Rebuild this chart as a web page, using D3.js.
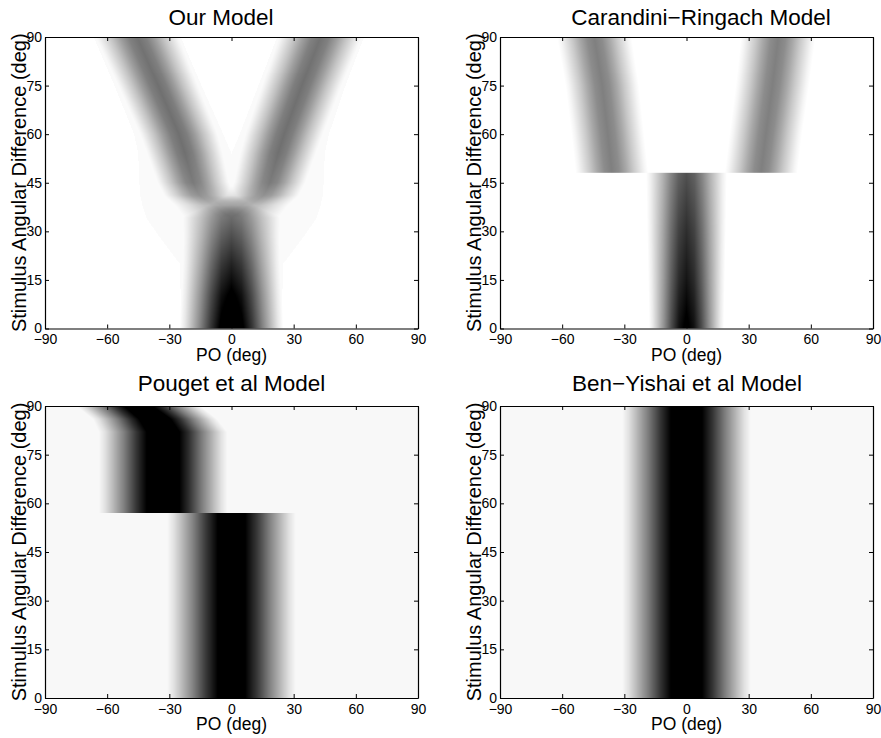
<!DOCTYPE html>
<html>
<head>
<meta charset="utf-8">
<script src="https://cdn.jsdelivr.net/npm/d3@7"></script>
<style>
  body { margin: 0; background: #fff; }
  svg text { font-family: "Liberation Sans", Arial, Helvetica, sans-serif; fill: #000; }
  .axis path, .axis line { stroke: #000; }
</style>
</head>
<body>
<svg id="chart" width="881" height="738"></svg>
<script>
const xTicks = [-90, -60, -30, 0, 30, 60, 90];
const yTicks = [0, 15, 30, 45, 60, 75, 90];
const titles = ["Our Model", "Carandini\u2212Ringach Model", "Pouget et al Model", "Ben\u2212Yishai et al Model"];
const xLabel = "PO (deg)";
const yLabel = "Stimulus Angular Difference (deg)";

// darkness across a band, vs distance from centre / half-width
const profileAt = [0, 0.2, 0.4, 0.6, 0.8, 0.9, 1];
const profile = [1, 0.9, 0.68, 0.42, 0.19, 0.08, 0];

// rows: [stimulus diff, [[centre, halfWidth, peak, haloHalfWidth], ...]]
const ourModel = [
  [0,  [[0, 25, 0.58, 24], [0, 25, 0.58, 24]]],
  [10, [[0, 24.5, 0.52, 24.5], [0, 24.5, 0.52, 24.5]]],
  [20, [[0, 24, 0.43, 25], [0, 24, 0.43, 25]]],
  [28, [[0, 24, 0.35, 34.5], [0, 24, 0.35, 34.5]]],
  [34, [[0, 24.5, 0.29, 41], [0, 24.5, 0.29, 41]]],
  [38, [[-9, 20, 0.29, 34], [9, 20, 0.29, 34]]],
  [41, [[-15.5, 18, 0.43, 28.5], [15.5, 18, 0.43, 28.5]]],
  [45, [[-18.5, 18, 0.52, 26], [18.5, 18, 0.52, 26]]],
  [54, [[-22.5, 19, 0.56, 22.5], [22.5, 19, 0.56, 22.5]]],
  [60, [[-25.5, 19.5, 0.56, 21.5], [25.5, 19.5, 0.56, 21.5]]],
  [75, [[-35.5, 20, 0.56, 21], [34, 20, 0.56, 21]]],
  [90, [[-45.5, 21, 0.55, 21], [43, 21, 0.55, 21]]]
];

const carandini = [
  [0,  [[0, 18, 0.52, 0], [0, 18, 0.52, 0]]],
  [15, [[0, 18.5, 0.46, 0], [0, 18.5, 0.46, 0]]],
  [30, [[0, 19, 0.41, 0], [0, 19, 0.41, 0]]],
  [48, [[0, 19.5, 0.34, 0], [0, 19.5, 0.34, 0]]],
  [48, [[-36, 17.5, 0.5, 0], [36, 17.5, 0.5, 0]]],
  [60, [[-38, 17.5, 0.5, 0], [38.3, 17.5, 0.5, 0]]],
  [75, [[-40.7, 17.7, 0.5, 0], [41.5, 17.7, 0.5, 0]]],
  [90, [[-44.5, 18, 0.5, 0], [44.3, 18, 0.5, 0]]]
];

const pouget = [
  [0,  [[0, 31, 0.55, 0], [0, 31, 0.55, 0]]],
  [57, [[0, 31, 0.55, 0], [0, 31, 0.55, 0]]],
  [57, [[-33, 31, 0.58, 0], [-33, 31, 0.58, 0]]],
  [82, [[-33, 31, 0.58, 0], [-33, 31, 0.58, 0]]],
  [86, [[-37, 30, 0.58, 0], [-37, 30, 0.58, 0]]],
  [90, [[-45, 30, 0.56, 0], [-45, 30, 0.56, 0]]]
];

const benYishai = [
  [0,  [[0, 31, 0.57, 0], [0, 31, 0.57, 0]]],
  [90, [[0, 31, 0.57, 0], [0, 31, 0.57, 0]]]
];

const panelRows = [ourModel, carandini, pouget, benYishai];
const panelBase = [0, 0, 0.027, 0.027];   // background darkness
const panelHalo = [0.02, 0, 0, 0];        // faint halo level

// layout
const boxes = [
  {left: 45,  right: 418, top: 37,  bottom: 328.5, titleX: 221,   titleY: 25},
  {left: 500, right: 873, top: 37,  bottom: 328.5, titleX: 701,   titleY: 25},
  {left: 45,  right: 418, top: 406, bottom: 698,   titleX: 231.5, titleY: 391},
  {left: 500, right: 873, top: 406, bottom: 698,   titleX: 687,   titleY: 391}
];

const svg = d3.select("#chart");
const shape = d3.scaleLinear().domain(profileAt).range(profile).clamp(true);

// bands at a given stimulus difference, between the two rows that bracket it
function rowAt(rows, yv) {
  const ys = rows.map(r => r[0]);
  let i = d3.bisectRight(ys, yv) - 1;
  i = Math.max(0, Math.min(rows.length - 2, i));
  const a = rows[i], b = rows[i + 1];
  const t = b[0] === a[0] ? 0 : Math.max(0, Math.min(1, (yv - a[0]) / (b[0] - a[0])));
  return a[1].map((band, k) => band.map((v, j) => v + (b[1][k][j] - v) * t));
}

function drawPanel(k) {
  const box = boxes[k], rows = panelRows[k];
  const x = d3.scaleLinear().domain([-90, 90]).range([box.left, box.right]);
  const y = d3.scaleLinear().domain([0, 90]).range([box.bottom, box.top]);

  const W = Math.round(box.right - box.left), H = Math.round(box.bottom - box.top);
  const canvas = document.createElement("canvas");
  canvas.width = W; canvas.height = H;
  const ctx = canvas.getContext("2d");
  const img = ctx.createImageData(W, H);
  for (let j = 0; j < H; j++) {
    const bands = rowAt(rows, y.invert(box.top + j + 0.5));
    for (let i = 0; i < W; i++) {
      const xv = x.invert(box.left + i + 0.5);
      let d = panelBase[k], inHalo = false;
      for (const [c, w, pk, h] of bands) {
        const dx = Math.abs(xv - c);
        d += pk * shape(dx / w);
        if (dx <= h) inHalo = true;
      }
      if (inHalo) d = Math.max(d, panelHalo[k]);
      const g = Math.round(255 * (1 - Math.min(1, d)));
      const o = 4 * (j * W + i);
      img.data[o] = img.data[o + 1] = img.data[o + 2] = g;
      img.data[o + 3] = 255;
    }
  }
  ctx.putImageData(img, 0, 0);

  const g = svg.append("g");
  g.append("image")
    .attr("x", box.left).attr("y", box.top)
    .attr("width", box.right - box.left).attr("height", box.bottom - box.top)
    .attr("preserveAspectRatio", "none")
    .attr("href", canvas.toDataURL());

  g.append("g").classed("axis", true)
    .attr("transform", `translate(0,${box.bottom})`)
    .call(d3.axisBottom(x).tickValues(xTicks).tickSizeInner(-4).tickSizeOuter(0).tickPadding(6))
    .call(s => s.selectAll("text").attr("font-size", 14).attr("font-family", null));
  g.append("g").classed("axis", true)
    .attr("transform", `translate(0,${box.top})`)
    .call(d3.axisTop(x).tickValues(xTicks).tickSizeInner(-4).tickSizeOuter(0).tickFormat(""));
  g.append("g").classed("axis", true)
    .attr("transform", `translate(${box.left},0)`)
    .call(d3.axisLeft(y).tickValues(yTicks).tickSizeInner(-4).tickSizeOuter(0).tickPadding(3))
    .call(s => s.selectAll("text").attr("font-size", 14).attr("font-family", null));
  g.append("g").classed("axis", true)
    .attr("transform", `translate(${box.right},0)`)
    .call(d3.axisRight(y).tickValues(yTicks).tickSizeInner(-4).tickSizeOuter(0).tickFormat(""));
  g.selectAll(".axis .domain").attr("stroke-width", 1.2);

  g.append("text")
    .attr("x", box.titleX).attr("y", box.titleY)
    .attr("text-anchor", "middle").attr("font-size", 22.5)
    .text(titles[k]);

  g.append("text")
    .attr("x", (box.left + box.right) / 2).attr("y", box.bottom + 32)
    .attr("text-anchor", "middle").attr("font-size", 17.5)
    .text(xLabel);

  g.append("text")
    .attr("transform", `translate(${box.left - 19.5},${(box.top + box.bottom) / 2}) rotate(-90)`)
    .attr("text-anchor", "middle").attr("font-size", 20)
    .text(yLabel);
}

for (let k = 0; k < 4; k++) drawPanel(k);
</script>
</body>
</html>
